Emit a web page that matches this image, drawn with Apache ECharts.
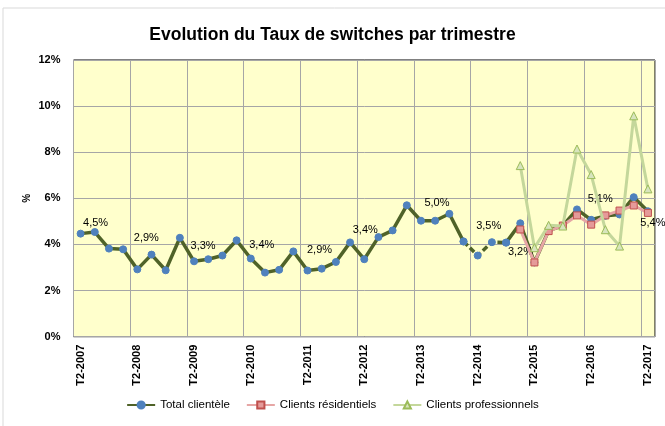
<!DOCTYPE html>
<html>
<head>
<meta charset="utf-8">
<script src="https://cdn.jsdelivr.net/npm/echarts@6/dist/echarts.min.js"></script>
<style>
  html, body { margin: 0; padding: 0; background: #fff; }
  #chart { width: 665px; height: 426px; }
</style>
</head>
<body>
<div id="chart"></div>
<script>
const quarters = [
  'T2-2007', 'T3-2007', 'T4-2007', 'T1-2008', 'T2-2008', 'T3-2008', 'T4-2008', 'T1-2009',
  'T2-2009', 'T3-2009', 'T4-2009', 'T1-2010', 'T2-2010', 'T3-2010', 'T4-2010', 'T1-2011',
  'T2-2011', 'T3-2011', 'T4-2011', 'T1-2012', 'T2-2012', 'T3-2012', 'T4-2012', 'T1-2013',
  'T2-2013', 'T3-2013', 'T4-2013', 'T1-2014', 'T2-2014', 'T3-2014', 'T4-2014', 'T1-2015',
  'T2-2015', 'T3-2015', 'T4-2015', 'T1-2016', 'T2-2016', 'T3-2016', 'T4-2016', 'T1-2017',
  'T2-2017'
]

// taux de switches en %
const totalClientele = [
  4.47, 4.54, 3.82, 3.79, 2.92, 3.56, 2.88, 4.29,
  3.27, 3.36, 3.52, 4.18, 3.39, 2.78, 2.90, 3.70,
  2.87, 2.95, 3.24, 4.09, 3.36, 4.32, 4.61, 5.70,
  5.03, 5.03, 5.33, 4.13, 3.52, 4.10, 4.08, 4.92,
  3.22, 4.60, 4.82, 5.52, 5.07, 5.24, 5.30, 6.05,
  5.44
]

const clientsResidentiels = [
  null, null, null, null, null, null, null, null,
  null, null, null, null, null, null, null, null,
  null, null, null, null, null, null, null, null,
  null, null, null, null, null, null, null, 4.65,
  3.22, 4.58, 4.82, 5.26, 4.86, 5.26, 5.47, 5.69,
  5.37
]

const clientsProfessionnels = [
  null, null, null, null, null, null, null, null,
  null, null, null, null, null, null, null, null,
  null, null, null, null, null, null, null, null,
  null, null, null, null, null, null, null, 7.42,
  3.86, 4.83, 4.80, 8.14, 7.03, 4.64, 3.93, 9.58,
  6.41
]

const yTicks = [0, 2, 4, 6, 8, 10, 12]

// hand-placed labels of the total series (px offset from the point)
const labelOffsets = {
  0: [15, -11], 4: [9, -31], 8: [9, -15], 12: [11, -14], 16: [12, -21],
  20: [1, -29], 24: [16, -18], 28: [11, -30], 32: [-14, -10], 36: [9, -21], 40: [5, 12]
}
// the total line is dashed between these two points
const dashFrom = 27
const dashTo = 30

const font = '"Liberation Sans", Arial, sans-serif'
const fmtPct = v => v.toFixed(1).replace('.', ',') + '%'

const chart = echarts.init(document.getElementById('chart'), null, { renderer: 'canvas' })

const withLabel = (v, i) => {
  if (v == null || !labelOffsets[i]) return v
  return {
    value: v,
    label: {
      show: true,
      position: 'inside',
      offset: labelOffsets[i],
      formatter: p => fmtPct(p.value),
      color: '#000',
      fontFamily: font,
      fontSize: 11
    }
  }
}

const totalSolid = totalClientele.map((v, i) => (i > dashFrom && i < dashTo ? null : withLabel(v, i)))
const totalDashed = totalClientele.map((v, i) => (i >= dashFrom && i <= dashTo ? withLabel(v, i) : null))

const totalStyle = {
  type: 'line',
  symbol: 'circle',
  symbolSize: 7,
  connectNulls: false,
  itemStyle: { color: '#4F81BD', borderColor: '#4F81BD', borderWidth: 1 },
  z: 2
}

const option = {
  backgroundColor: '#fff',
  animation: false,
  title: {
    text: 'Evolution du Taux de switches par trimestre',
    left: 'center',
    top: 21,
    textStyle: { fontFamily: font, fontWeight: 'bold', fontSize: 17.5, color: '#000' }
  },
  graphic: [{
    type: 'rect',
    shape: { x: 3, y: 8, width: 700, height: 440 },
    style: { fill: 'none', stroke: '#d9d9d9', lineWidth: 1 },
    silent: true,
    z: -10
  }],
  legend: {
    bottom: 10,
    left: 'center',
    itemWidth: 28,
    itemHeight: 9,
    itemGap: 16,
    textStyle: { fontFamily: font, fontSize: 11.5, color: '#000' },
    data: ['Total clientèle', 'Clients résidentiels', 'Clients professionnels']
  },
  grid: {
    left: 73.5,
    right: 10,
    top: 60,
    bottom: 89.3,
    show: true,
    backgroundColor: '#FFFFCC',
    borderColor: '#000',
    borderWidth: 1
  },
  xAxis: {
    type: 'category',
    data: quarters,
    boundaryGap: true,
    axisLine: { show: false },
    axisTick: { show: false },
    axisLabel: {
      interval: 3,
      rotate: 90,
      margin: 8,
      fontFamily: font,
      fontWeight: 'bold',
      fontSize: 11,
      color: '#000'
    },
    splitLine: {
      show: true,
      interval: 3,
      lineStyle: { color: '#a6a6a6', width: 1 }
    }
  },
  yAxis: {
    type: 'value',
    min: yTicks[0],
    max: yTicks[yTicks.length - 1],
    interval: 2,
    name: '%',
    nameLocation: 'middle',
    nameGap: 41,
    nameMoveOverlap: false,
    nameRotate: 90,
    nameTextStyle: { fontFamily: font, fontWeight: 'bold', fontSize: 10, color: '#000' },
    axisLine: { show: false },
    axisTick: { show: false },
    axisLabel: {
      margin: 13,
      formatter: '{value}%',
      fontFamily: font,
      fontWeight: 'bold',
      fontSize: 11,
      color: '#000'
    },
    splitLine: { lineStyle: { color: '#a6a6a6', width: 1 } }
  },
  series: [
    Object.assign({}, totalStyle, {
      name: 'Total clientèle',
      data: totalSolid,
      lineStyle: { color: '#4F6228', width: 3.5 }
    }),
    Object.assign({}, totalStyle, {
      name: 'Total clientèle',
      data: totalDashed,
      lineStyle: { color: '#4F6228', width: 3.5, type: [6, 3] }
    }),
    {
      name: 'Clients résidentiels',
      type: 'line',
      data: clientsResidentiels,
      symbol: 'rect',
      symbolSize: 7,
      lineStyle: { color: '#E6A6A5', width: 3 },
      itemStyle: { color: '#E59A99', borderColor: '#C0504D', borderWidth: 1 },
      z: 3
    },
    {
      name: 'Clients professionnels',
      type: 'line',
      data: clientsProfessionnels,
      symbol: 'triangle',
      symbolSize: 8,
      lineStyle: { color: '#C4D79B', width: 3 },
      itemStyle: { color: '#D7E4BD', borderColor: '#9BBB59', borderWidth: 1 },
      z: 4
    }
  ]
}

chart.setOption(option)

window.addEventListener('resize', () => chart.resize())
</script>
</body>
</html>
